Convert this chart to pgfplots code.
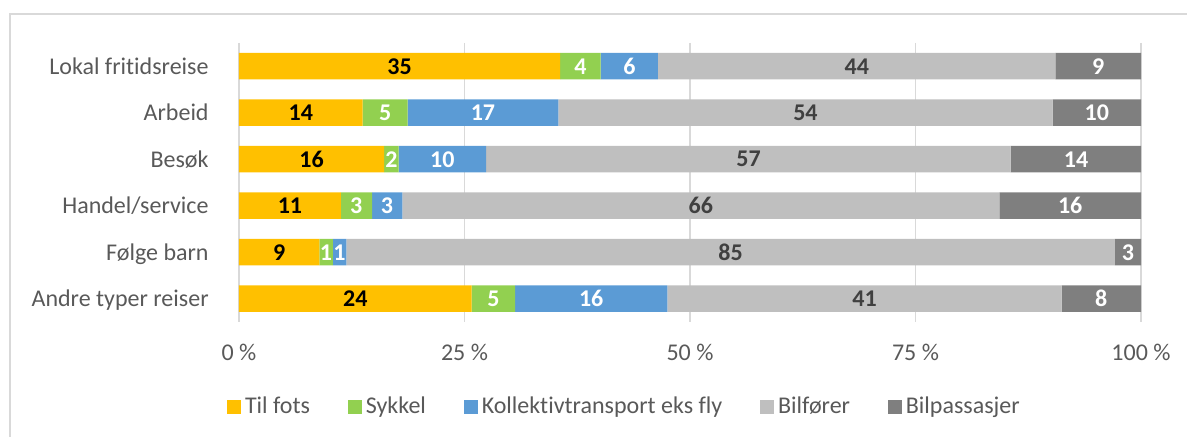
\documentclass[border=0pt]{standalone}
\usepackage{pgfplots}
\pgfplotsset{compat=1.18}
\usepackage{pgfplotstable}
\usepackage{fontspec}
\setmainfont{Carlito}[Ligatures=NoCommon]

\definecolor{cFots}{HTML}{FFC000}
\definecolor{cSykkel}{HTML}{92D050}
\definecolor{cKoll}{HTML}{5B9BD5}
\definecolor{cForer}{HTML}{BFBFBF}
\definecolor{cPass}{HTML}{7F7F7F}
\definecolor{tekst}{HTML}{595959}
\definecolor{rutenett}{HTML}{D9D9D9}

% andel i prosent, hver rad summerer til 100
\pgfplotstableread{
y fots sykkel koll forer pass
0 35.6 4.5  6.35 44.05 9.5
1 13.7 5.0  16.7 54.8  9.8
2 16.1 1.6  9.7  58.15 14.45
3 11.3 3.45 3.35 66.2  15.7
4 8.9  1.5  1.5  85.2  2.9
5 25.8 4.8  16.9 43.7  8.8
}\andel

% midtpunkt for etikettene og avrundet verdi
\pgfplotstableread{
y m1 m2 m3 m4 m5 l1 l2 l3 l4 l5
0 17.8  37.85 43.3  68.5  95.25 35 4 6  44 9
1 6.85  16.2  27.05 62.8  95.1  14 5 17 54 10
2 8.05  16.9  22.55 56.5  92.8  16 2 10 57 14
3 5.65  13.0  16.4  51.2  92.15 11 3 3  66 16
4 4.45  9.65  11.15 54.5  98.55 9  1 1  85 3
5 12.9  28.2  39.05 69.35 95.6  24 5 16 41 8
}\etiketter

\pgfplotsset{
  felles/.style={scale only axis, width=451pt, height=139.5pt,
    xmin=0, xmax=100, ymin=-0.5, ymax=5.5, y dir=reverse},
  etikett/.style={only marks, mark=none, point meta=explicit symbolic,
    nodes near coords,
    every node near coord/.style={anchor=center, text=#1,
      font=\fontsize{12}{14}\selectfont\bfseries}},
}

\begin{document}
\begin{tikzpicture}[font=\fontsize{12}{14}\selectfont]
\begin{axis}[
  felles,
  xbar stacked,
  bar width=0.57,
  axis line style={draw=none},
  major tick length=0pt,
  xmajorgrids,
  grid style={rutenett, line width=0.75pt},
  xtick={0,25,50,75,100},
  xticklabels={0 \%, 25 \%, 50 \%, 75 \%, 100 \%},
  xticklabel style={anchor=base, inner sep=0pt, yshift=-19.5pt, text=tekst},
  ytick={0,...,5},
  yticklabels={Lokal fritidsreise, Arbeid, Besøk, Handel/service, Følge barn, Andre typer reiser},
  yticklabel style={anchor=base east, inner sep=0pt, xshift=-15pt, yshift=-3.9pt, text=tekst},
  legend columns=-1,
  legend style={at={(0.4285,-0.3047)}, anchor=center, draw=none,
    font=\fontsize{12}{14}\selectfont, text=tekst,
    /tikz/every even column/.append style={column sep=17pt}},
  legend image code/.code={\fill[#1, draw=none] (0pt,-3.45pt) rectangle (6.9pt,3.45pt);},
]
\addplot[fill=cFots, draw=none] table[x=fots, y=y] {\andel};
\addplot[fill=cSykkel, draw=none] table[x=sykkel, y=y] {\andel};
\addplot[fill=cKoll, draw=none] table[x=koll, y=y] {\andel};
\addplot[fill=cForer, draw=none] table[x=forer, y=y] {\andel};
\addplot[fill=cPass, draw=none] table[x=pass, y=y] {\andel};
\legend{Til fots, Sykkel, Kollektivtransport eks fly, Bilfører, Bilpassasjer}
\end{axis}
\begin{axis}[felles, hide axis, clip=false]
\addplot[etikett=black] table[x=m1, y=y, meta=l1] {\etiketter};
\addplot[etikett=white] table[x=m2, y=y, meta=l2] {\etiketter};
\addplot[etikett=white] table[x=m3, y=y, meta=l3] {\etiketter};
\addplot[etikett={black!75}] table[x=m4, y=y, meta=l4] {\etiketter};
\addplot[etikett=white] table[x=m5, y=y, meta=l5] {\etiketter};
\end{axis}
\draw[rutenett, line width=0.75pt] (-114.5pt,-70pt) -- (-114.5pt,154pt) -- (490pt,154pt);
\pgfresetboundingbox
\path[use as bounding box] (-119.5pt,-57.5pt) rectangle (474pt,161pt);
\end{tikzpicture}
\end{document}
